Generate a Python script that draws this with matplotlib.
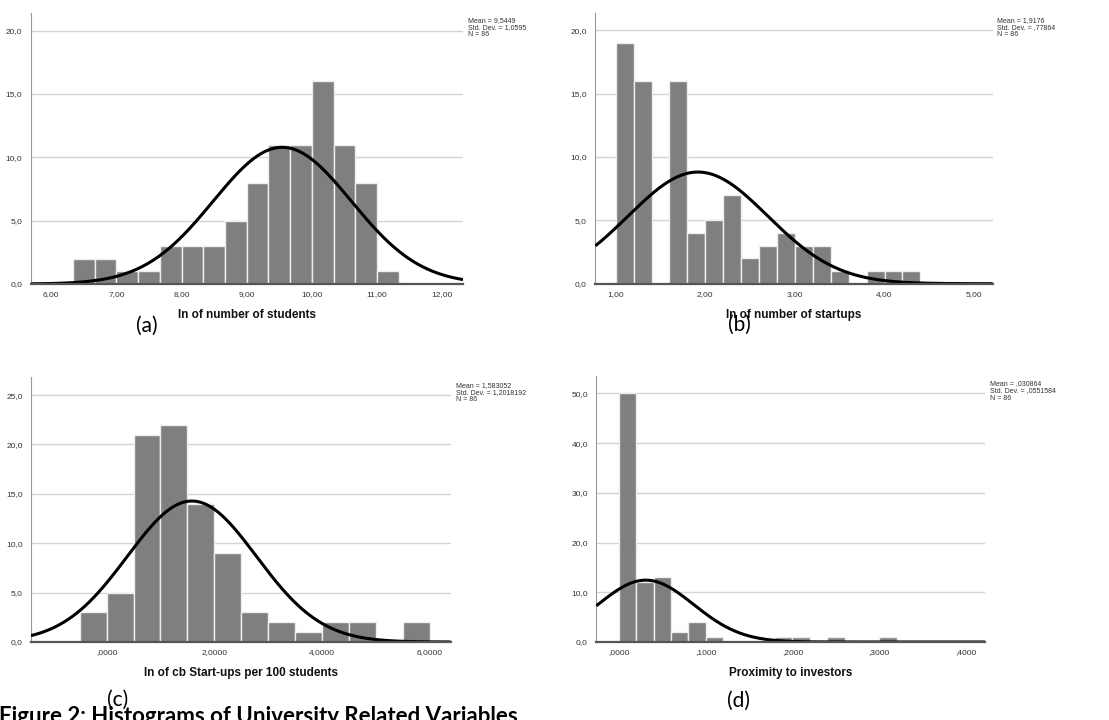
import numpy as np
import matplotlib
matplotlib.use("Agg")
import matplotlib.pyplot as plt

# ---------------- data ----------------
# (a) ln of number of students
a_start, a_width = 6.3333, 1/3
a_counts = [2, 2, 1, 1, 3, 3, 3, 5, 8, 11, 11, 16, 11, 8, 1]
a_mean, a_sd, a_n = 9.5449, 1.0595, 86
a_xticks = [6, 7, 8, 9, 10, 11, 12]
a_xticklabels = ["6,00", "7,00", "8,00", "9,00", "10,00", "11,00", "12,00"]
a_yticks = [0, 5, 10, 15, 20]
a_stats = ["Mean = 9,5449", "Std. Dev. = 1,0595", "N = 86"]
a_xlabel = "In of number of students"

# (b) ln of number of startups
b_start, b_width = 1.0, 0.2
b_counts = [19, 16, 0, 16, 4, 5, 7, 2, 3, 4, 3, 3, 1, 0, 1, 1, 1]
b_mean, b_sd, b_n = 1.9176, 0.77864, 86
b_xticks = [1, 2, 3, 4, 5]
b_xticklabels = ["1,00", "2,00", "3,00", "4,00", "5,00"]
b_yticks = [0, 5, 10, 15, 20]
b_stats = ["Mean = 1,9176", "Std. Dev. = ,77864", "N = 86"]
b_xlabel = "In of number of startups"

# (c) ln of cb start-ups per 100 students
c_start, c_width = -0.5, 0.5
c_counts = [3, 5, 21, 22, 14, 9, 3, 2, 1, 2, 2, 0, 2]
c_mean, c_sd, c_n = 1.583052, 1.2018192, 86
c_xticks = [0, 2, 4, 6]
c_xticklabels = [",0000", "2,0000", "4,0000", "6,0000"]
c_yticks = [0, 5, 10, 15, 20, 25]
c_stats = ["Mean = 1,583052", "Std. Dev. = 1,2018192", "N = 86"]
c_xlabel = "In of cb Start-ups per 100 students"

# (d) proximity to investors
d_start, d_width = 0.0, 0.02
d_counts = [50, 12, 13, 2, 4, 1, 0, 0, 0, 1, 1, 0, 1, 0, 0, 1]
d_mean, d_sd, d_n = 0.030864, 0.0551584, 86
d_xticks = [0, 0.1, 0.2, 0.3, 0.4]
d_xticklabels = [",0000", ",1000", ",2000", ",3000", ",4000"]
d_yticks = [0, 10, 20, 30, 40, 50]
d_stats = ["Mean = ,030864", "Std. Dev. = ,0551584", "N = 86"]
d_xlabel = "Proximity to investors"

panel_labels = ["(a)", "(b)", "(c)", "(d)"]
caption = "Figure 2: Histograms of University Related Variables"

# ---------------- layout ----------------
W, H = 1109, 720
fig = plt.figure(figsize=(W / 100, H / 100), dpi=100)
fig.patch.set_facecolor("white")


def px_axes(left, top, right, bottom):
    return fig.add_axes([left / W, 1 - bottom / H, (right - left) / W, (bottom - top) / H])


BAR = "#7f7f7f"
TICKC = "#333333"


def draw(ax, start, width, counts, mean, sd, n, xlim, ylim, xticks, xtl, yticks, xlabel):
    counts = np.array(counts, dtype=float)
    lefts = start + width * np.arange(len(counts))
    ax.bar(lefts, counts, width=width, align="edge", color=BAR,
           edgecolor="#eeeeee", linewidth=1.0, zorder=2)
    xs = np.linspace(xlim[0], xlim[1], 600)
    ys = n * width / (sd * np.sqrt(2 * np.pi)) * np.exp(-0.5 * ((xs - mean) / sd) ** 2)
    ax.plot(xs, ys, color="black", lw=2.2, zorder=3, solid_capstyle="butt")
    ax.set_xlim(*xlim)
    ax.set_ylim(*ylim)
    ax.set_xticks(xticks)
    ax.set_xticklabels(xtl)
    ax.set_yticks(yticks)
    ax.set_yticklabels([f"{v:.1f}".replace(".", ",") for v in yticks])
    for v in yticks[1:]:
        ax.axhline(v, color="#d4d4d4", lw=1.0, zorder=1)
    ax.tick_params(length=0, labelsize=6, labelcolor=TICKC, pad=6)
    ax.tick_params(axis="x", pad=5)
    for s in ["top", "right"]:
        ax.spines[s].set_visible(False)
    ax.spines["left"].set_color("#999999")
    ax.spines["left"].set_linewidth(0.8)
    ax.spines["bottom"].set_color("#555555")
    ax.spines["bottom"].set_linewidth(1.6)
    ax.spines["bottom"].set_zorder(4)
    ax.set_xlabel(xlabel, fontsize=8.5, fontweight="bold", color="#111111", labelpad=8)
    for lab in ax.get_xticklabels() + ax.get_yticklabels():
        lab.set_family("Liberation Sans")
    ax.xaxis.label.set_family("Liberation Sans")


plt.rcParams["font.family"] = "Liberation Sans"

axA = px_axes(30.5, 13, 463, 284)
draw(axA, a_start, a_width, a_counts, a_mean, a_sd, a_n, (5.68, 12.32), (0, 21.4),
     a_xticks, a_xticklabels, a_yticks, a_xlabel)
axB = px_axes(595.3, 12.7, 992.7, 283.7)
draw(axB, b_start, b_width, b_counts, b_mean, b_sd, b_n, (0.772, 5.207), (0, 21.39),
     b_xticks, b_xticklabels, b_yticks, b_xlabel)
axC = px_axes(31, 377.3, 450.7, 642)
draw(axC, c_start, c_width, c_counts, c_mean, c_sd, c_n, (-1.407, 6.394), (0, 26.8),
     c_xticks, c_xticklabels, c_yticks, c_xlabel)
axD = px_axes(596.3, 376, 985, 642)
draw(axD, d_start, d_width, d_counts, d_mean, d_sd, d_n, (-0.0262, 0.422), (0, 53.5),
     d_xticks, d_xticklabels, d_yticks, d_xlabel)

# stats boxes
for stats, (x, y) in zip([a_stats, b_stats, c_stats, d_stats],
                         [(468, 17), (997, 17.5), (455.5, 382), (990, 380.5)]):
    fig.text(x / W, 1 - y / H, "\n".join(stats), fontsize=5, color=TICKC,
             ha="left", va="top", linespacing=1.0, family="Liberation Sans")

# panel labels
for lab, (x, y) in zip(panel_labels, [(147, 326), (739, 325), (118, 700), (739, 701)]):
    fig.text(x / W, 1 - y / H, lab, fontsize=15, color="black",
             ha="center", va="center", family="Lato")

fig.text(-1 / W, 1 - 706 / H, caption, fontsize=16, fontweight="bold",
         ha="left", va="top", family="Lato", color="black")

fig.savefig("out.png", dpi=100, facecolor="white")
